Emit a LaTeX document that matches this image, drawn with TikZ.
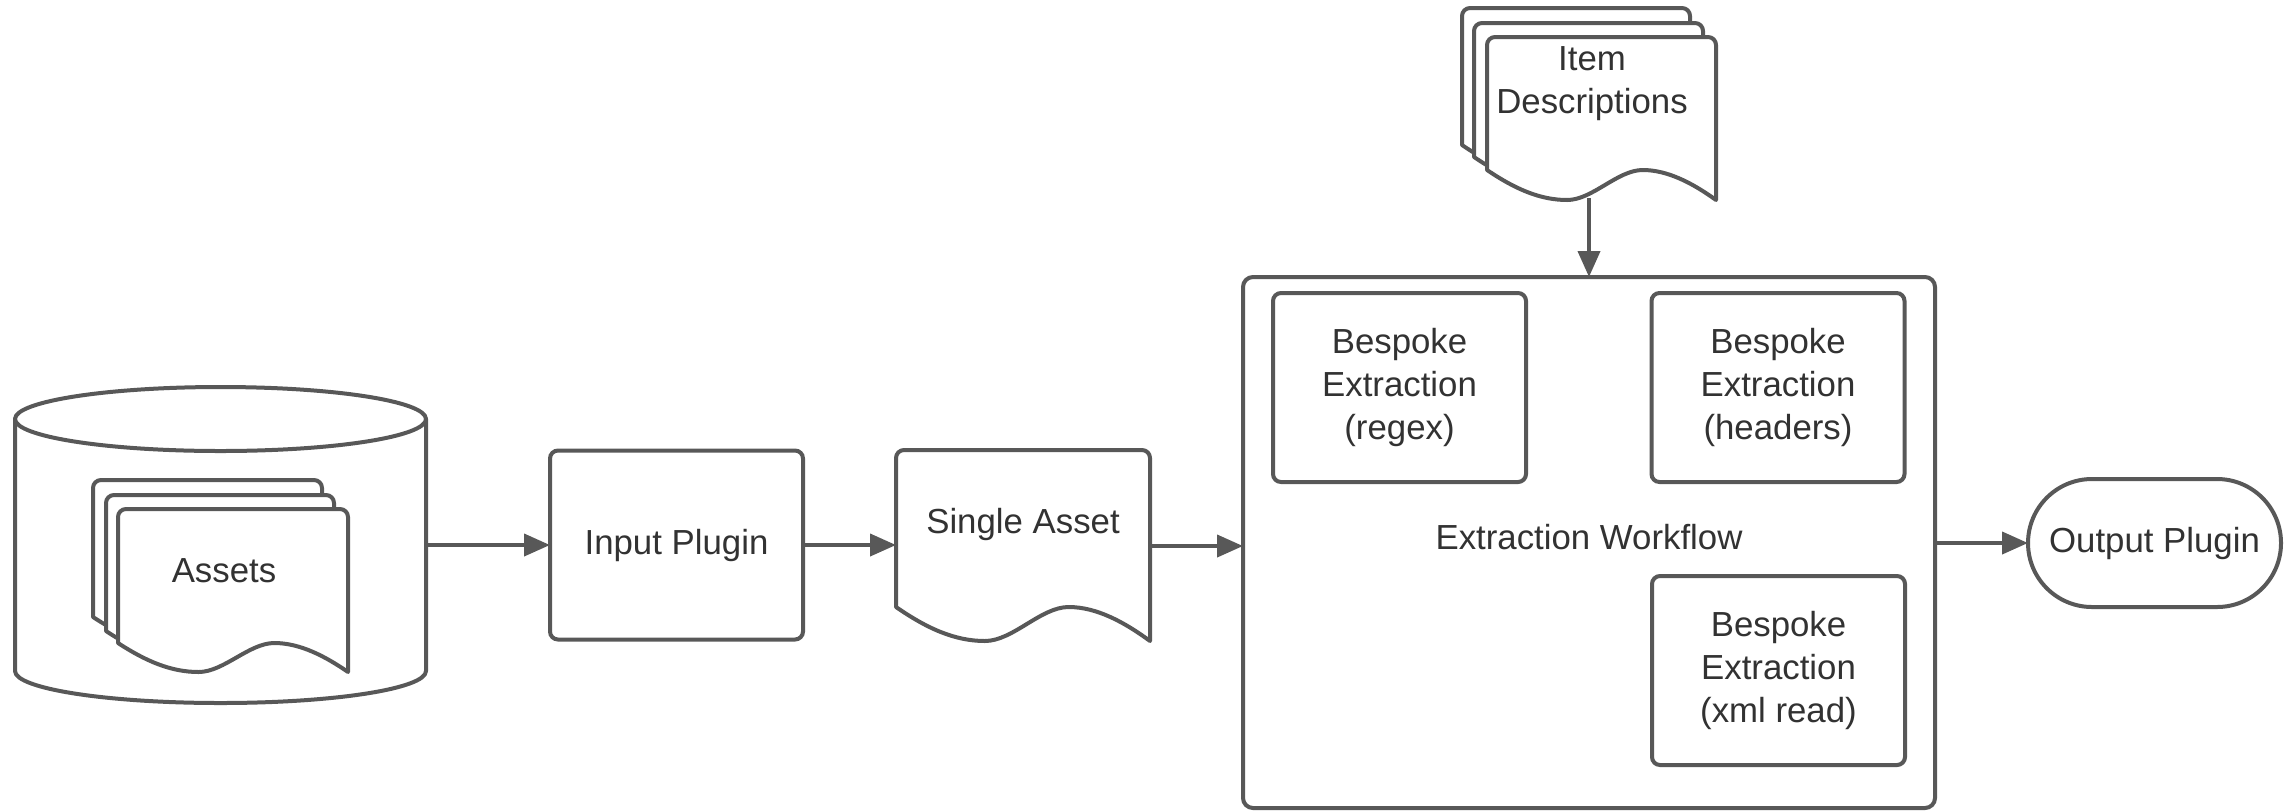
\documentclass[tikz,border=0pt]{standalone}
\usepackage{fontspec}
\setmainfont{Liberation Sans}
\usetikzlibrary{arrows.meta}
\definecolor{linec}{RGB}{88,88,88}
\definecolor{textc}{RGB}{50,50,50}
% document outline: x0, y0 (top), x1, yb (left bottom), wave amplitude
\newcommand\docpath[5]{(#3,{#4+#5}) -- (#3,{#2+8}) arc[start angle=0,end angle=90,radius=4pt] -- ({#1+8},#2) arc[start angle=90,end angle=180,radius=4pt] -- (#1,#4)
 .. controls ({#1+0.12*(#3-#1)},{#4+0.62*#5}) and ({#1+0.23*(#3-#1)},{#4+#5}) .. ({#1+0.35*(#3-#1)},{#4+#5})
 .. controls ({#1+0.46*(#3-#1)},{#4+#5}) and ({#1+0.57*(#3-#1)},#4) .. ({#1+0.68*(#3-#1)},#4)
 .. controls ({#1+0.79*(#3-#1)},#4) and ({#1+0.9*(#3-#1)},{#4+0.45*#5}) .. (#3,{#4+#5}) -- cycle}
\tikzset{
  lbl/.style={text=textc, font=\fontsize{17.4}{21.5}\selectfont, align=center, inner sep=0pt, outer sep=0pt},
  box/.style={lbl, draw=linec, line width=2pt, rounded corners=4pt, fill=white, minimum width=126.5pt, minimum height=94.5pt},
  shapeline/.style={draw=linec, line width=2pt, fill=white, line join=round},
  area/.style={inner sep=0pt, outer sep=0pt},
  arr/.style={draw=linec, line width=2pt, -{Triangle[length=13pt,width=11pt]}}
}
\begin{document}
\begin{tikzpicture}[x=0.5pt,y=-0.5pt]
\useasboundingbox (0,0) rectangle (2290,810);
% database cylinder with stacked assets
\draw[shapeline] (15,419) -- (15,671) arc[start angle=180,end angle=360,x radius=102.75pt,y radius=16pt] -- (426,419) -- cycle;
\draw[shapeline] (220.5,419) ellipse[x radius=102.75pt,y radius=16pt];
\node[area, minimum width=205.5pt, minimum height=158pt] (db) at (220.5,545) {};
\draw[shapeline] \docpath{93}{480}{322}{617}{29};
\draw[shapeline] \docpath{106}{495}{334}{631}{29};
\draw[shapeline] \docpath{118}{509}{348}{643}{29};
\node[lbl] (assets) at (224,571) {Assets};
% input plugin
\node[box] (inp) at (676.5,545) {Input Plugin};
% single asset
\draw[shapeline] \docpath{896}{450}{1150}{607}{34};
\node[area, minimum width=127pt, minimum height=96pt] (single) at (1023,546) {};
\node[lbl] (singlet) at (1023,524) {Single Asset};
% extraction workflow container
\node[lbl, draw=linec, line width=2pt, rounded corners=5pt, fill=white, minimum width=346pt, minimum height=265.5pt] (work) at (1589,542.5) {};
\node[lbl] (workt) at (1589,537) {Extraction Workflow};
\node[box] (regex) at (1399.5,387.5) {Bespoke\\Extraction\\(regex)};
\node[box] (headers) at (1778,387.5) {Bespoke\\Extraction\\(headers)};
\node[box] (xml) at (1778.5,670.5) {Bespoke\\Extraction\\(xml read)};
% output plugin
\node[box, minimum height=64pt, rounded corners=32pt] (out) at (2154.5,543) {Output Plugin};
% item descriptions
\draw[shapeline] \docpath{1462}{8}{1690}{145}{30};
\draw[shapeline] \docpath{1474}{23}{1703}{157}{30};
\draw[shapeline] \docpath{1487}{37}{1716}{170}{30};
\node[area, minimum width=114.5pt, minimum height=82.5pt] (items) at (1601.5,119.5) {};
\node[lbl] (itemst) at (1592,84) {Item\\Descriptions};
\coordinate (itemb) at (1589,198);
% connectors
\draw[arr] (db.east) -- (db.east -| inp.west);
\draw[arr] (inp.east) -- (inp.east -| single.west);
\draw[arr] (single.east) -- (single.east -| work.west);
\draw[arr] (work.east |- out.west) -- (out.west);
\draw[arr] (itemb) -- (work.north);
\end{tikzpicture}
\end{document}
